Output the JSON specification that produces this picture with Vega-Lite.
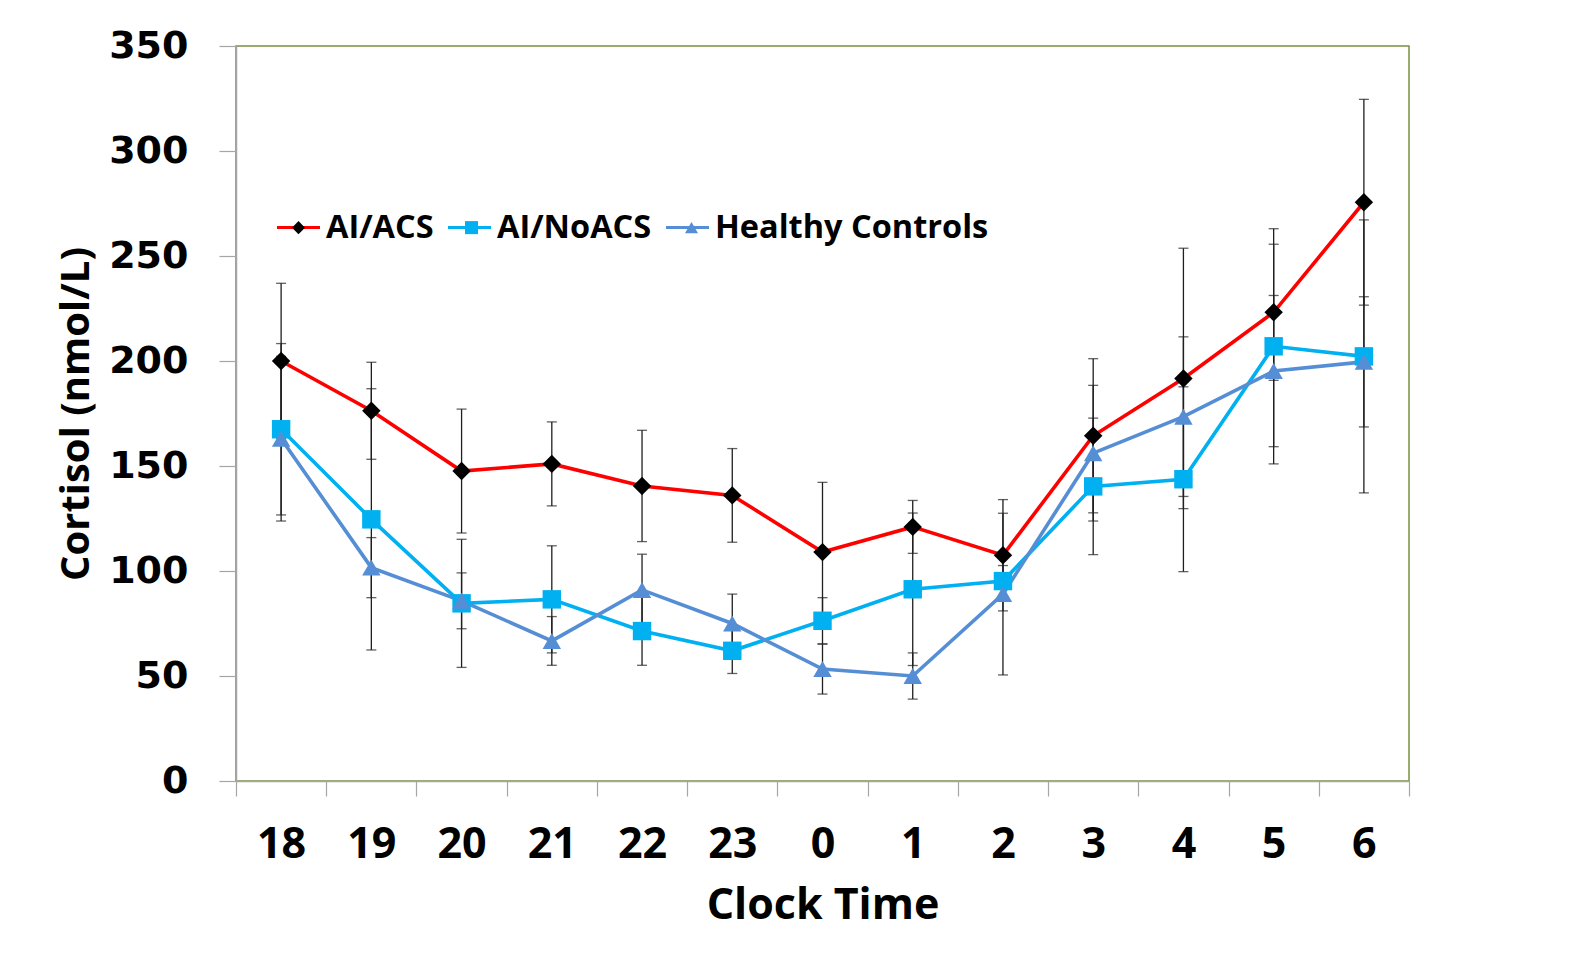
{
  "$schema": "https://vega.github.io/schema/vega-lite/v6.json",
  "width": 1173,
  "height": 735,
  "autosize": {"type": "none"},
  "padding": {"left": 236, "top": 46, "right": 186, "bottom": 172},
  "background": "white",
  "config": {
    "view": {"stroke": "#77933C", "strokeWidth": 1.5}
  },
  "data": {
    "values": [
      {"time": "18", "group": "AI/ACS", "mean": 200.0, "err": 37.0},
      {"time": "19", "group": "AI/ACS", "mean": 176.3, "err": 23.1},
      {"time": "20", "group": "AI/ACS", "mean": 147.6, "err": 29.5},
      {"time": "21", "group": "AI/ACS", "mean": 151.0, "err": 20.0},
      {"time": "22", "group": "AI/ACS", "mean": 140.5, "err": 26.5},
      {"time": "23", "group": "AI/ACS", "mean": 136.0, "err": 22.3},
      {"time": "0", "group": "AI/ACS", "mean": 109.0, "err": 33.2},
      {"time": "1", "group": "AI/ACS", "mean": 121.0, "err": 12.6},
      {"time": "2", "group": "AI/ACS", "mean": 107.5, "err": 26.5},
      {"time": "3", "group": "AI/ACS", "mean": 164.4, "err": 36.7},
      {"time": "4", "group": "AI/ACS", "mean": 191.7, "err": 62.0},
      {"time": "5", "group": "AI/ACS", "mean": 223.2, "err": 32.4},
      {"time": "6", "group": "AI/ACS", "mean": 275.6, "err": 49.0},
      {"time": "18", "group": "AI/NoACS", "mean": 167.5, "err": 40.8},
      {"time": "19", "group": "AI/NoACS", "mean": 124.6, "err": 62.2},
      {"time": "20", "group": "AI/NoACS", "mean": 84.6, "err": 30.5},
      {"time": "21", "group": "AI/NoACS", "mean": 86.5, "err": 25.5},
      {"time": "22", "group": "AI/NoACS", "mean": 71.4, "err": 16.3},
      {"time": "23", "group": "AI/NoACS", "mean": 62.0, "err": 10.8},
      {"time": "0", "group": "AI/NoACS", "mean": 76.3, "err": 11.0},
      {"time": "1", "group": "AI/NoACS", "mean": 91.3, "err": 36.3},
      {"time": "2", "group": "AI/NoACS", "mean": 95.2, "err": 7.4},
      {"time": "3", "group": "AI/NoACS", "mean": 140.3, "err": 32.5},
      {"time": "4", "group": "AI/NoACS", "mean": 143.7, "err": 44.0},
      {"time": "5", "group": "AI/NoACS", "mean": 207.0, "err": 56.0},
      {"time": "6", "group": "AI/NoACS", "mean": 202.2, "err": 65.0},
      {"time": "18", "group": "Healthy Controls", "mean": 163.0, "err": 39.2},
      {"time": "19", "group": "Healthy Controls", "mean": 101.6, "err": 14.3},
      {"time": "20", "group": "Healthy Controls", "mean": 85.8, "err": 13.3},
      {"time": "21", "group": "Healthy Controls", "mean": 66.7, "err": 11.6},
      {"time": "22", "group": "Healthy Controls", "mean": 91.0, "err": 17.0},
      {"time": "23", "group": "Healthy Controls", "mean": 75.0, "err": 14.0},
      {"time": "0", "group": "Healthy Controls", "mean": 53.3, "err": 11.9},
      {"time": "1", "group": "Healthy Controls", "mean": 50.0, "err": 11.0},
      {"time": "2", "group": "Healthy Controls", "mean": 89.0, "err": 38.5},
      {"time": "3", "group": "Healthy Controls", "mean": 156.1, "err": 32.3},
      {"time": "4", "group": "Healthy Controls", "mean": 173.5, "err": 38.0},
      {"time": "5", "group": "Healthy Controls", "mean": 195.2, "err": 36.0},
      {"time": "6", "group": "Healthy Controls", "mean": 199.6, "err": 31.0}
    ]
  },
  "encoding": {
    "x": {
      "field": "time",
      "type": "ordinal",
      "sort": ["18", "19", "20", "21", "22", "23", "0", "1", "2", "3", "4", "5", "6"],
      "scale": {"type": "band", "paddingInner": 0, "paddingOuter": 0},
      "axis": {
        "title": "Clock Time",
        "titleFont": "Open Sans",
        "titleFontWeight": "bold",
        "titleFontSize": 43,
        "titleColor": "black",
        "titlePadding": 18,
        "labelFont": "Open Sans",
        "labelFontWeight": "bold",
        "labelFontSize": 43,
        "labelColor": "black",
        "labelAngle": 0,
        "labelPadding": 27,
        "tickBand": "extent",
        "tickSize": 15,
        "tickColor": "#A6A6A6",
        "tickWidth": 1.2,
        "domainColor": "#A6A6A6",
        "domainWidth": 1.5,
        "grid": false
      }
    },
    "y": {
      "field": "mean",
      "type": "quantitative",
      "scale": {"domain": [0, 350], "nice": false},
      "axis": {
        "title": "Cortisol (nmol/L)",
        "titleFont": "Open Sans",
        "titleFontWeight": "bold",
        "titleFontSize": 40,
        "titleColor": "black",
        "titlePadding": 12,
        "labelFont": "DejaVu Sans",
        "labelFontWeight": "bold",
        "labelFontSize": 38,
        "labelColor": "black",
        "labelPadding": 31,
        "values": [0, 50, 100, 150, 200, 250, 300, 350],
        "tickSize": 17,
        "tickColor": "#A6A6A6",
        "tickWidth": 1.2,
        "domainColor": "#A6A6A6",
        "domainWidth": 1.5,
        "grid": false
      }
    }
  },
  "layer": [
    {
      "mark": {
        "type": "errorbar",
        "ticks": {"size": 10, "thickness": 1.3, "color": "#1F1F1F"},
        "rule": {"strokeWidth": 1.3, "color": "#1F1F1F"}
      },
      "encoding": {
        "y": {"field": "mean", "type": "quantitative"},
        "yError": {"field": "err"}
      }
    },
    {
      "mark": {"type": "line", "strokeWidth": 3.6},
      "encoding": {
        "color": {
          "field": "group",
          "type": "nominal",
          "scale": {
            "domain": ["AI/ACS", "AI/NoACS", "Healthy Controls"],
            "range": ["#FF0000", "#00B0F0", "#558ED5"]
          },
          "legend": {
            "orient": "none",
            "legendX": 39,
            "legendY": 158,
            "direction": "horizontal",
            "columns": 3,
            "title": null,
            "padding": 0,
            "symbolType": "stroke",
            "symbolSize": 1849,
            "symbolStrokeWidth": 3.2,
            "labelFont": "Open Sans",
            "labelFontWeight": "bold",
            "labelFontSize": 32.5,
            "labelColor": "black",
            "labelOffset": 4,
            "labelLimit": 400,
            "columnPadding": 7
          }
        }
      }
    },
    {
      "mark": {"type": "point", "filled": true, "size": 340, "opacity": 1},
      "encoding": {
        "fill": {
          "field": "group",
          "type": "nominal",
          "scale": {"range": ["#000000", "#00B0F0", "#558ED5"]},
          "legend": {
            "orient": "none",
            "legendX": 39,
            "legendY": 165.25,
            "direction": "horizontal",
            "columns": 3,
            "title": null,
            "padding": 0,
            "symbolSize": 170,
            "symbolStrokeWidth": 0.1,
            "symbolOffset": 7.25,
            "labelFont": "Open Sans",
            "labelFontWeight": "bold",
            "labelFontSize": 32.5,
            "labelOpacity": 0,
            "labelOffset": 18.5,
            "labelLimit": 400,
            "columnPadding": 7,
            "encode": {
              "labels": {"update": {"dy": {"value": 1500}}}
            }
          }
        },
        "shape": {
          "field": "group",
          "type": "nominal",
          "scale": {"range": ["diamond", "square", "triangle-up"]},
          "legend": {
            "orient": "none",
            "legendX": 39,
            "legendY": 165.25,
            "direction": "horizontal",
            "columns": 3,
            "title": null,
            "padding": 0,
            "symbolSize": 170,
            "symbolStrokeWidth": 0.1,
            "symbolOffset": 7.25,
            "labelFont": "Open Sans",
            "labelFontWeight": "bold",
            "labelFontSize": 32.5,
            "labelOpacity": 0,
            "labelOffset": 18.5,
            "labelLimit": 400,
            "columnPadding": 7,
            "encode": {
              "labels": {"update": {"dy": {"value": 1500}}}
            }
          }
        }
      }
    }
  ]
}
